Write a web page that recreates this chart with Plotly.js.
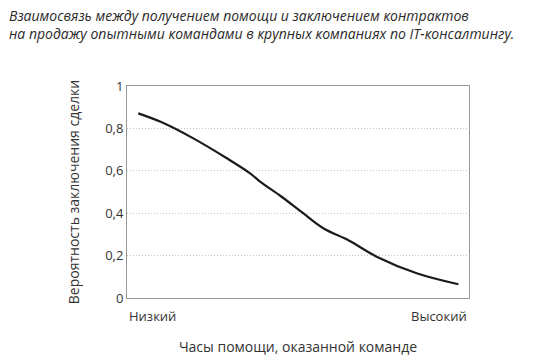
<!DOCTYPE html>
<html><head><meta charset="utf-8">
<script src="https://cdn.plot.ly/plotly-3.0.1.min.js"></script>
<style>body{margin:0;background:#fff}</style>
</head><body>
<div id="chart" style="width:557px;height:362px"></div>
<script>
const helpHours = [0.033, 0.10, 0.194, 0.292, 0.360, 0.389, 0.45, 0.515, 0.574, 0.65, 0.730, 0.847, 0.969];
const dealProbability = [0.871, 0.83, 0.753, 0.659, 0.588, 0.549, 0.48, 0.40, 0.329, 0.27, 0.195, 0.117, 0.065];
const xTickLabels = ["Низкий", "Высокий"];
const yTicks = [0, 0.2, 0.4, 0.6, 0.8, 1];

const tickFont = {family: "Open Sans, sans-serif", size: 13, color: "#333"};
Plotly.newPlot("chart", [{
  x: helpHours, y: dealProbability, type: "scatter", mode: "lines",
  line: {color: "#1a1a1a", width: 2.2, shape: "spline", smoothing: 1},
  hoverinfo: "skip"
}], {
  width: 557, height: 362,
  margin: {l: 127, r: 88, t: 86, b: 64},
  separators: ", ",
  showlegend: false,
  paper_bgcolor: "#fff", plot_bgcolor: "#fff",
  title: {
    text: "Взаимосвязь между получением помощи и заключением контрактов<br>на продажу опытными командами в крупных компаниях по IT-консалтингу.",
    font: {family: "Open Sans, sans-serif", size: 14, color: "#2a2a2a", style: "italic"},
    xref: "container", yref: "container", x: 9/557, xanchor: "left", y: 1 - 21/362, yanchor: "top", pad: {t: 0, l: 0}
  },
  xaxis: {
    range: [0, 1], showgrid: false, zeroline: false, showticklabels: false, ticks: "",
    showline: true, mirror: true, linecolor: "#999", linewidth: 1,
    title: {text: "Часы помощи, оказанной команде", font: {family: "Open Sans, sans-serif", size: 14, color: "#333"}, standoff: 44}
  },
  yaxis: {
    range: [0, 1], tickvals: yTicks, tickfont: tickFont, ticks: "", ticklen: 0,
    showgrid: true, gridcolor: "#c4c4c4", griddash: "1px,2px", gridwidth: 1, zeroline: false,
    showline: true, mirror: true, linecolor: "#999", linewidth: 1,
    title: {text: "Вероятность заключения сделки", font: {family: "Open Sans, sans-serif", size: 14, color: "#333"}, standoff: 22}
  },
  annotations: [
    {xref: "paper", yref: "paper", x: 0, y: 0, yshift: -18, xanchor: "left", yanchor: "middle", text: xTickLabels[0], showarrow: false, font: tickFont},
    {xref: "paper", yref: "paper", x: 1, y: 0, yshift: -18, xanchor: "right", yanchor: "middle", text: xTickLabels[1], showarrow: false, font: tickFont}
  ]
}, {displayModeBar: false, staticPlot: true});
</script>
</body></html>
